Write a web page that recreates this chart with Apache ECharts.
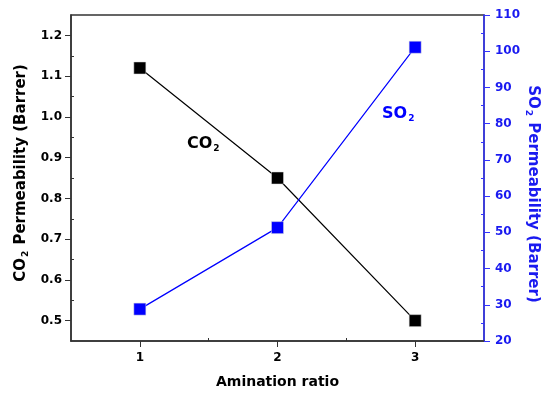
<!DOCTYPE html>
<html>
<head>
<meta charset="utf-8">
<script src="https://cdn.jsdelivr.net/npm/echarts@6/dist/echarts.min.js"></script>
<style>
  html, body { margin: 0; padding: 0; background: #fff; }
  #chart { width: 550px; height: 394px; }
</style>
</head>
<body>
<div id="chart"></div>
<script>
var ratios = [1, 2, 3];
var co2Perm = [1.12, 0.85, 0.50];
var so2Perm = [28.8, 51.3, 101.1];

var co2Ticks = [0.5, 0.6, 0.7, 0.8, 0.9, 1.0, 1.1, 1.2];
var co2Minor = [0.55, 0.65, 0.75, 0.85, 0.95, 1.05, 1.15];
var so2Ticks = [20, 30, 40, 50, 60, 70, 80, 90, 100, 110];
var so2Minor = [25, 35, 45, 55, 65, 75, 85, 95, 105];
var xTicks = [1, 2, 3];
var xMinor = [1.5, 2.5];

var FONT = 'DejaVu Sans';
var DARK = '#333333';
var BLUE = '#0000ff';
var AXBLUE = '#3333ff';
var LBLUE = '#1a1af0';

function pairs(xs, ys) {
    return xs.map(function (x, i) { return [x, ys[i]]; });
}

var chart = echarts.init(document.getElementById('chart'));
var option = {
    animation: false,
    backgroundColor: '#ffffff',
    grid: {
        left: 71, right: 66, top: 15, bottom: 53,
        outerBoundsMode: 'none',
        show: true, borderColor: DARK, borderWidth: 1.5
    },
    xAxis: [
        {
            type: 'value', min: 0.5, max: 3.5, position: 'bottom',
            name: 'Amination ratio', nameLocation: 'middle', nameGap: 34,
            nameTextStyle: { fontFamily: FONT, fontWeight: 'bold', fontSize: 14, color: '#000' },
            axisLine: { show: true, lineStyle: { color: DARK, width: 1.5 } },
            axisTick: { show: true, length: 6, customValues: xTicks, lineStyle: { color: DARK } },
            axisLabel: { customValues: xTicks, margin: 11, fontFamily: FONT, fontWeight: 'bold', fontSize: 12, color: '#000' },
            splitLine: { show: false }
        },
        {
            type: 'value', min: 0.5, max: 3.5, position: 'bottom', gridIndex: 0,
            axisLine: { show: false },
            axisTick: { show: true, inside: true, length: 3, customValues: xMinor, lineStyle: { color: DARK } },
            axisLabel: { show: false },
            splitLine: { show: false }
        }
    ],
    yAxis: [
        {
            type: 'value', min: 0.45, max: 1.25, position: 'left',
            name: '{b|CO}{s|2}{b| Permeability (Barrer)}', nameLocation: 'middle', nameGap: 41,
            nameTextStyle: {
                color: '#000',
                padding: [0, 0, 0, 10],
                rich: {
                    b: { fontFamily: FONT, fontWeight: 'bold', fontSize: 15, color: '#000' },
                    s: { fontFamily: FONT, fontWeight: 'bold', fontSize: 9, color: '#000', verticalAlign: 'bottom', padding: [9, 1, 0, 1] }
                }
            },
            axisLine: { show: true, lineStyle: { color: DARK, width: 1.5 } },
            axisTick: { show: true, length: 6, customValues: co2Ticks, lineStyle: { color: DARK } },
            axisLabel: {
                customValues: co2Ticks, margin: 9, fontFamily: FONT, fontWeight: 'bold', fontSize: 12, color: '#000',
                formatter: function (v) { return v.toFixed(1); }
            },
            splitLine: { show: false }
        },
        {
            type: 'value', min: 20, max: 110, interval: 10, position: 'right',
            name: '{b|SO}{s|2}{b| Permeability (Barrer)}', nameLocation: 'middle', nameGap: 40, nameRotate: -90,
            nameMoveOverlap: false,
            nameTextStyle: {
                color: BLUE,
                padding: [0, 0, 0, 32],
                rich: {
                    b: { fontFamily: FONT, fontWeight: 'bold', fontSize: 15, color: LBLUE },
                    s: { fontFamily: FONT, fontWeight: 'bold', fontSize: 9, color: LBLUE, verticalAlign: 'bottom', padding: [9, 1, 0, 1] }
                }
            },
            axisLine: { show: true, lineStyle: { color: AXBLUE, width: 1.5 } },
            axisTick: { show: true, length: 6, lineStyle: { color: AXBLUE } },
            axisLabel: { margin: 11, fontFamily: FONT, fontWeight: 'bold', fontSize: 12, color: LBLUE },
            splitLine: { show: false }
        },
        {
            type: 'value', min: 0.45, max: 1.25, position: 'left',
            axisLine: { show: false },
            axisTick: { show: true, inside: true, length: 3, customValues: co2Minor, lineStyle: { color: DARK } },
            axisLabel: { show: false },
            splitLine: { show: false }
        },
        {
            type: 'value', min: 20, max: 110, position: 'right',
            axisLine: { show: false },
            axisTick: { show: true, inside: true, length: 3, customValues: so2Minor, lineStyle: { color: AXBLUE } },
            axisLabel: { show: false },
            splitLine: { show: false }
        }
    ],
    series: [
        {
            name: 'CO2', type: 'line', xAxisIndex: 0, yAxisIndex: 0,
            data: pairs(ratios, co2Perm),
            symbol: 'rect', symbolSize: 12,
            lineStyle: { color: '#000', width: 1.2 },
            itemStyle: { color: '#000', borderColor: '#ddd', borderWidth: 0.5 }
        },
        {
            name: 'SO2', type: 'line', xAxisIndex: 0, yAxisIndex: 1,
            data: pairs(ratios, so2Perm),
            symbol: 'rect', symbolSize: 12,
            lineStyle: { color: BLUE, width: 1.2 },
            itemStyle: { color: BLUE, borderColor: '#ddd', borderWidth: 0.5 }
        }
    ],
    graphic: [
        {
            type: 'text', left: 187, top: 136,
            style: {
                text: '{b|CO}{s|2}',
                rich: {
                    b: { fontFamily: FONT, fontWeight: 'bold', fontSize: 16, fill: '#000' },
                    s: { fontFamily: FONT, fontWeight: 'bold', fontSize: 9, fill: '#000', padding: [10, 0, 0, 1] }
                }
            }
        },
        {
            type: 'text', left: 382, top: 106,
            style: {
                text: '{b|SO}{s|2}',
                rich: {
                    b: { fontFamily: FONT, fontWeight: 'bold', fontSize: 16, fill: BLUE },
                    s: { fontFamily: FONT, fontWeight: 'bold', fontSize: 9, fill: BLUE, padding: [10, 0, 0, 1] }
                }
            }
        }
    ]
};
chart.setOption(option);
</script>
</body>
</html>
